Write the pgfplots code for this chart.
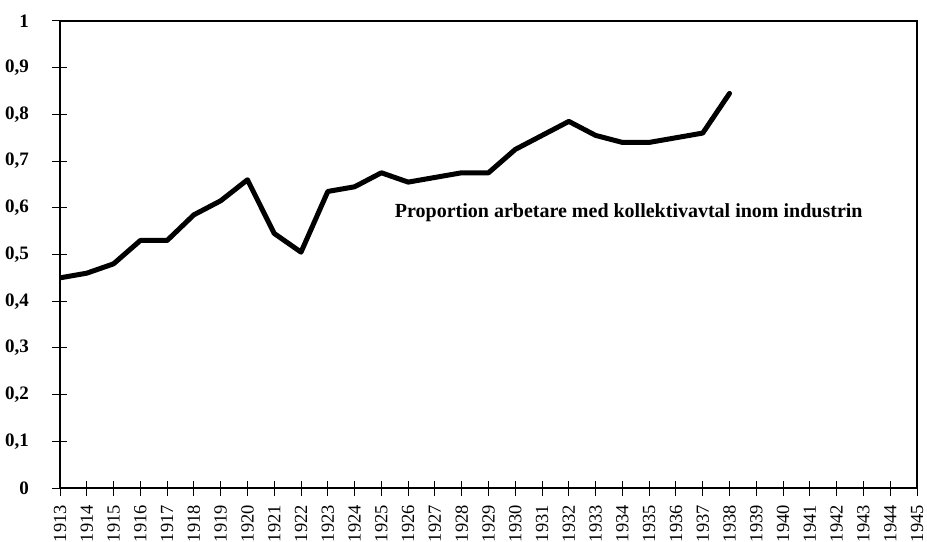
\documentclass[border=0pt]{standalone}
\usepackage{pgfplots}
\pgfplotsset{compat=1.18}
\usepackage{fontspec}
\setmainfont{Liberation Serif}
\begin{document}
\begin{tikzpicture}
\begin{axis}[
  name=ax,
  scale only axis,
  width=857bp, height=467bp,
  xmin=1913, xmax=1945, ymin=0, ymax=1,
  xtick distance=1,
  ytick={0,0.1,...,1},
  axis line style={line width=1.2bp},
  tick style={black, line width=1bp},
  major tick length=15bp,
  tick align=center,
  xtick pos=bottom, ytick pos=left,
  /pgf/number format/assume math mode=true,
  xticklabel shift=6bp,
  yticklabel shift=20bp,
  xticklabel style={rotate=90, anchor=east, font=\fontsize{18.5bp}{18.5bp}\selectfont, /pgf/number format/1000 sep={}},
  yticklabel style={font=\bfseries\fontsize{19bp}{19bp}\selectfont},
  yticklabel={\ifdim\tick pt=0pt 0\else\ifdim\tick pt=1pt 1\else\pgfmathprintnumber[fixed,fixed zerofill,precision=1,use comma]{\tick}\fi\fi},
]
\addplot[black, line width=5bp, line join=round, line cap=round] coordinates {
(1913,0.45) (1914,0.46) (1915,0.48) (1916,0.53) (1917,0.53) (1918,0.585)
(1919,0.615) (1920,0.66) (1921,0.545) (1922,0.505) (1923,0.635) (1924,0.645)
(1925,0.675) (1926,0.655) (1927,0.665) (1928,0.675) (1929,0.675) (1930,0.725)
(1931,0.755) (1932,0.785) (1933,0.755) (1934,0.74) (1935,0.74) (1936,0.75)
(1937,0.76) (1938,0.845)
};
\node[anchor=base west, inner sep=0pt, font=\bfseries\fontsize{20bp}{20bp}\selectfont] at (axis cs:1925.5,0.58) {Proportion arbetare med kollektivavtal inom industrin};
\end{axis}
\pgfresetboundingbox
\path[use as bounding box] ([xshift=-60bp, yshift=-54bp]ax.south west) rectangle ([xshift=10bp, yshift=21bp]ax.north east);
\end{tikzpicture}
\end{document}
